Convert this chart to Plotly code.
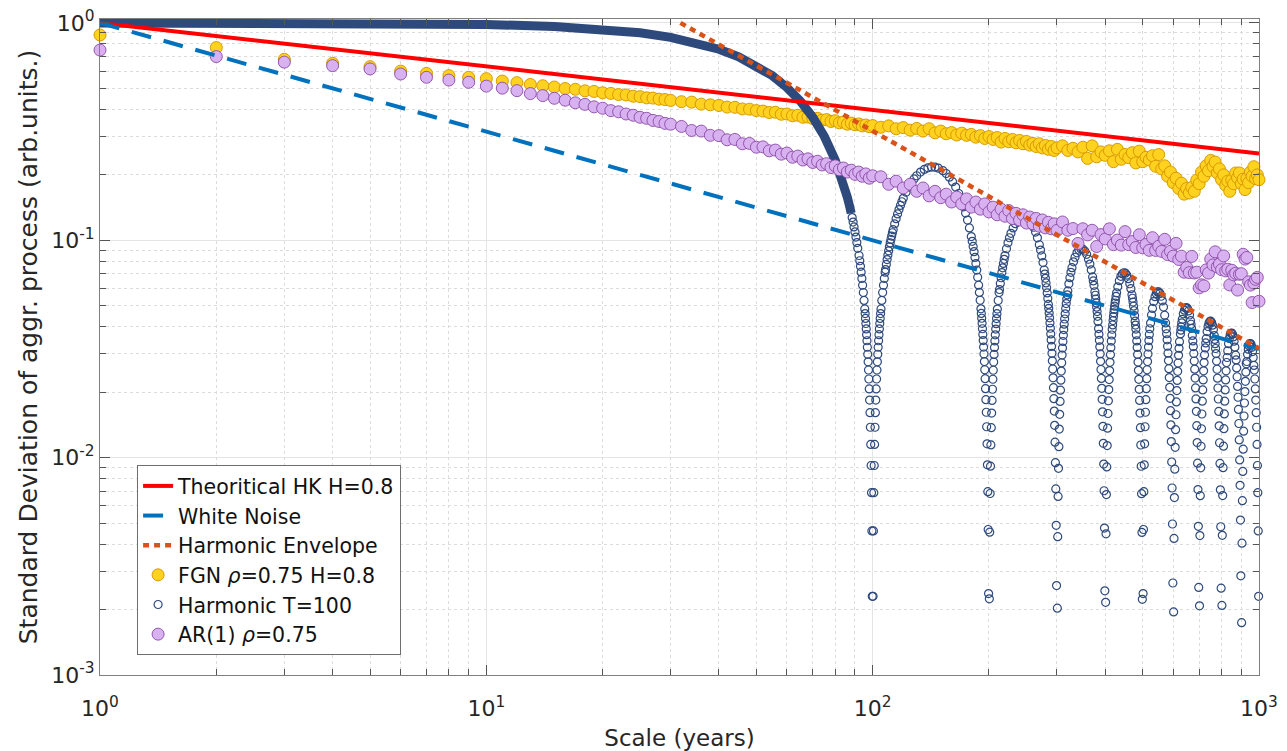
import plotly.graph_objects as go

# ---------------- data ----------------
k_scale = [1, 2, 3, 4, 5, 6, 7, 8, 9, 10, 11, 12, 13, 14, 15, 16, 17, 18, 19, 20,
           21, 22, 23, 24, 25, 26, 27, 28, 29, 30,
           32, 34, 36, 38, 40, 42, 44, 46, 48, 50, 52, 54, 56, 58, 60, 62, 64, 66, 68, 70,
           72, 74, 76, 78, 80, 82, 84, 86, 88, 90, 92, 94, 96, 98, 100,
           105, 110, 115, 120, 125, 130, 135, 140, 145, 150, 155, 160, 165, 170, 175, 180,
           185, 190, 195, 200, 205, 210, 215, 220, 225, 230, 235, 240, 245, 250, 255, 260,
           265, 270, 275, 280, 285, 290, 295, 300,
           310, 320, 330, 340, 350, 360, 370, 380, 390, 400, 410, 420, 430, 440, 450, 460,
           470, 480, 490, 500, 510, 520, 530, 540, 550, 560, 570, 580, 590, 600, 610, 620,
           630, 640, 650, 660, 670, 680, 690, 700, 710, 720, 730, 740, 750, 760, 770, 780,
           790, 800, 810, 820, 830, 840, 850, 860, 870, 880, 890, 900, 910, 920, 930, 940,
           950, 960, 970, 980, 990, 1000]

fgn_std = [0.88, 0.77, 0.68, 0.652, 0.629, 0.600, 0.586, 0.572, 0.562, 0.554,
           0.540, 0.531, 0.521, 0.514, 0.507, 0.499, 0.495, 0.487, 0.484, 0.477,
           0.474, 0.468, 0.466, 0.460, 0.458, 0.452, 0.451, 0.446, 0.444, 0.440,
           0.434, 0.432, 0.423, 0.420, 0.417, 0.410, 0.409, 0.402, 0.401, 0.395,
           0.393, 0.387, 0.388, 0.380, 0.381, 0.374, 0.376, 0.368, 0.369, 0.363,
           0.364, 0.357, 0.359, 0.352, 0.355, 0.347, 0.350, 0.342, 0.346, 0.340,
           0.343, 0.336, 0.339, 0.333, 0.337,
           0.331, 0.336, 0.326, 0.330, 0.321, 0.327, 0.318, 0.326, 0.312, 0.318,
           0.309, 0.313, 0.305, 0.311, 0.304, 0.307, 0.298, 0.303, 0.294, 0.300,
           0.291, 0.297, 0.283, 0.294, 0.284, 0.291, 0.281, 0.288, 0.278, 0.285,
           0.274, 0.279, 0.270, 0.278, 0.266, 0.273, 0.262, 0.270, 0.259, 0.266,
           0.272, 0.259, 0.265, 0.255, 0.268, 0.238, 0.272, 0.242, 0.255, 0.246,
           0.258, 0.230, 0.262, 0.236, 0.248, 0.240, 0.253, 0.227, 0.257, 0.230,
           0.241, 0.234, 0.245, 0.219, 0.248, 0.213, 0.220, 0.197, 0.206, 0.184,
           0.193, 0.173, 0.183, 0.163, 0.173, 0.165, 0.175, 0.168, 0.189, 0.182,
           0.206, 0.197, 0.220, 0.209, 0.233, 0.219, 0.229, 0.204, 0.213, 0.190,
           0.200, 0.179, 0.187, 0.168, 0.189, 0.182, 0.204, 0.194, 0.204, 0.182,
           0.191, 0.171, 0.192, 0.184, 0.206, 0.197, 0.218, 0.192, 0.200, 0.190]

ar1_std = [0.75, 0.70, 0.66, 0.636, 0.614, 0.582, 0.562, 0.546, 0.533, 0.512,
           0.501, 0.488, 0.473, 0.463, 0.450, 0.441, 0.429, 0.422, 0.411, 0.405,
           0.395, 0.390, 0.381, 0.376, 0.368, 0.364, 0.356, 0.352, 0.345, 0.342,
           0.334, 0.320, 0.318, 0.304, 0.303, 0.290, 0.291, 0.278, 0.279, 0.268,
           0.269, 0.258, 0.260, 0.249, 0.252, 0.241, 0.244, 0.234, 0.237, 0.228,
           0.231, 0.222, 0.225, 0.216, 0.220, 0.211, 0.215, 0.206, 0.210, 0.201,
           0.206, 0.197, 0.202, 0.193, 0.198,
           0.196, 0.181, 0.187, 0.174, 0.181, 0.168, 0.174, 0.160, 0.168, 0.157,
           0.163, 0.150, 0.158, 0.147, 0.155, 0.142, 0.150, 0.139, 0.147, 0.135,
           0.142, 0.131, 0.139, 0.129, 0.137, 0.126, 0.133, 0.124, 0.131, 0.120,
           0.128, 0.119, 0.126, 0.116, 0.124, 0.114, 0.121, 0.113, 0.119, 0.111,
           0.1214, 0.1112, 0.1132, 0.0967, 0.1130, 0.1059, 0.1112, 0.0936, 0.1062, 0.1014,
           0.1129, 0.0955, 0.1002, 0.0950, 0.1096, 0.0955, 0.0987, 0.0926, 0.1061, 0.0923,
           0.0957, 0.0899, 0.1028, 0.0898, 0.0939, 0.0889, 0.1010, 0.0859, 0.0890, 0.0845,
           0.0968, 0.0816, 0.0845, 0.0713, 0.0750, 0.0710, 0.0843, 0.0707, 0.0713, 0.0604,
           0.0624, 0.0617, 0.0731, 0.0706, 0.0820, 0.0770, 0.0885, 0.0754, 0.0777, 0.0732,
           0.0847, 0.0723, 0.0736, 0.0623, 0.0728, 0.0693, 0.0705, 0.0590, 0.0697, 0.0702,
           0.0862, 0.0819, 0.0833, 0.0644, 0.0622, 0.0517, 0.0635, 0.0661, 0.0675, 0.0524]

# straight reference lines (end points)
hk_x = [1, 1000]
hk_y = [1.0, 0.251]
wn_x = [1, 1000]
wn_y = [1.0, 0.0316]
env_x = [31.8, 1000]
env_y = [1.0, 0.0318]

# harmonic T=100: dense solid part (overlapping circles)
hb_x = [1, 2, 3, 5, 7, 10, 15, 20, 25, 30, 35, 40, 45, 50, 55, 60, 65, 70, 75, 80,
        82.5, 85, 86, 87, 88]
hb_y = [1.0, 0.9995, 0.9987, 0.9960, 0.9921, 0.9838, 0.9636, 0.9356, 0.9005, 0.8585,
        0.8105, 0.7570, 0.6988, 0.6367, 0.5717, 0.5046, 0.4364, 0.3679, 0.3002, 0.2339,
        0.2016, 0.1700, 0.1576, 0.1453, 0.1332]

# harmonic T=100: individual circles, lobe by lobe
hx0 = [88.5, 89.0, 89.5, 90.0, 90.5, 91.0, 91.5, 92.21, 92.60, 92.99, 93.38, 93.77, 94.18,
       94.58, 94.99, 95.40, 95.61, 95.82, 96.03, 96.24, 96.45, 96.67, 96.88, 97.10, 97.32,
       97.54, 97.75, 97.97, 98.19, 98.42, 98.64, 98.86, 99.09, 99.31, 99.54, 99.77]
hy0 = [0.1272, 0.1212, 0.1152, 0.1093, 0.1034, 0.0976, 0.0918, 0.0851, 0.0805, 0.0759,
       0.0713, 0.0667, 0.0621, 0.0575, 0.0529, 0.0483, 0.0460, 0.0437, 0.0414, 0.0391,
       0.0368, 0.0345, 0.0322, 0.0299, 0.0276, 0.0253, 0.0230, 0.0207, 0.0184, 0.0161,
       0.0138, 0.0115, 0.0092, 0.0069, 0.0046, 0.0023]

hx1 = [100.23, 100.46, 100.69, 100.93, 101.16, 101.40, 101.64, 101.87, 102.11, 102.35,
       102.59, 102.84, 103.08, 103.33, 103.58, 103.83, 104.08, 104.33, 104.58, 104.84,
       105.09, 105.61, 106.13, 106.66, 107.19, 107.73,
       108.0, 108.5, 109.0, 109.5, 110.0, 110.5, 111.0, 111.5, 112.0, 112.5,
       113, 114, 115, 116, 117, 118, 119, 120, 122, 124, 126, 128, 130,
       133, 136, 139, 142, 145, 148, 152, 155, 158, 161, 164, 167, 170,
       172, 174, 176, 178, 180, 181, 182, 183, 184, 185, 186, 187,
       188.02, 188.90, 189.77, 190.64, 191.08, 191.52, 191.96, 192.39, 192.83, 193.27,
       193.71, 194.13, 194.61, 195.04, 195.48, 195.93, 196.37, 196.82, 197.26, 197.71,
       198.16, 198.62, 199.07, 199.53]
hy1 = [0.0023, 0.0046, 0.0069, 0.0092, 0.0115, 0.0138, 0.0161, 0.0184, 0.0207, 0.0230,
       0.0253, 0.0276, 0.0299, 0.0322, 0.0345, 0.0368, 0.0391, 0.0414, 0.0437, 0.0460,
       0.0483, 0.0529, 0.0575, 0.0621, 0.0667, 0.0713,
       0.0733, 0.0774, 0.0815, 0.0855, 0.0894, 0.0933, 0.0972, 0.1009, 0.1046, 0.1083,
       0.1119, 0.1189, 0.1257, 0.1322, 0.1385, 0.1446, 0.1504, 0.1559, 0.1663, 0.1758,
       0.1842, 0.1916, 0.1981,
       0.2060, 0.2118, 0.2155, 0.2172, 0.2169, 0.2147, 0.2090, 0.2029, 0.1952, 0.1861,
       0.1757, 0.1641, 0.1515,
       0.1426, 0.1334, 0.1238, 0.1140, 0.1040, 0.0989, 0.0937, 0.0886, 0.0834, 0.0781,
       0.0729, 0.0676,
       0.06217, 0.05757, 0.05297, 0.04837, 0.04607, 0.04377, 0.04147, 0.03917, 0.03687,
       0.03457, 0.03227, 0.02997, 0.02767, 0.02537, 0.02307, 0.02077, 0.01847, 0.01617,
       0.01387, 0.01157, 0.00927, 0.00697, 0.00467, 0.00237]

hx2 = [200.45, 200.91, 201.38, 201.84, 202.31, 202.79, 203.26, 203.74, 204.22, 204.71,
       205.20, 205.69, 206.18, 206.68, 207.18, 207.68, 208.19, 208.70, 209.22, 209.74,
       210.26, 211.32, 212.40,
       213, 214, 215, 216, 217, 218, 219, 220, 222, 224, 226, 228, 231, 234, 237, 241,
       245, 249, 253, 257, 261, 264, 267, 270, 272, 274, 276, 278, 279, 280, 281, 282,
       283, 284, 285,
       285.62, 286.32, 287.01, 287.70, 288.38, 289.06, 289.74, 290.42, 291.10, 291.77,
       292.45, 293.12, 293.80, 294.47, 295.15, 295.82, 296.50, 297.18, 297.86, 298.54,
       299.23]
hy2 = [0.00224, 0.00454, 0.00684, 0.00914, 0.01144, 0.01374, 0.01604, 0.01834, 0.02064,
       0.02294, 0.02524, 0.02754, 0.02984, 0.03214, 0.03444, 0.03674, 0.03904, 0.04134,
       0.04364, 0.04594, 0.04824, 0.05284, 0.05744,
       0.05936, 0.06334, 0.06722, 0.07100, 0.07468, 0.07825, 0.08171, 0.08506, 0.09141,
       0.09729, 0.10269, 0.10759, 0.11399, 0.11922, 0.12328, 0.12685, 0.12834, 0.12779,
       0.12527, 0.12089, 0.11477, 0.10911, 0.10263, 0.09539, 0.09018, 0.08470, 0.07896,
       0.07300, 0.06994, 0.06683, 0.06368, 0.06049, 0.05726, 0.05400, 0.05071,
       0.04858, 0.04628, 0.04398, 0.04168, 0.03938, 0.03708, 0.03478, 0.03248, 0.03018,
       0.02788, 0.02558, 0.02328, 0.02098, 0.01868, 0.01638, 0.01408, 0.01178, 0.00948,
       0.00718, 0.00488, 0.00258]

hx3 = [300.61, 301.31, 302.00, 302.71, 303.41, 304.12, 304.84, 305.57, 306.29, 307.03,
       307.77, 308.51, 309.27, 310.03, 310.80, 311.58, 312.36, 313.16, 313.96,
       315, 316, 317, 318, 319, 320, 322, 324, 326, 328, 331, 334, 338, 342, 346, 350,
       354, 358, 362, 365, 368, 371, 372.5, 374, 376, 377, 378, 379, 380, 381, 382, 383,
       384.29, 385.24, 386.19, 387.13, 388.06, 388.99, 389.91, 390.83, 391.74, 392.65,
       393.56, 394.47, 395.38, 396.29, 397.20, 398.11, 399.03]
hy3 = [0.00203, 0.00433, 0.00663, 0.00893, 0.01123, 0.01353, 0.01583, 0.01813, 0.02043,
       0.02273, 0.02503, 0.02733, 0.02963, 0.03193, 0.03423, 0.03653, 0.03883, 0.04113,
       0.04343,
       0.04588, 0.04854, 0.05112, 0.05364, 0.05610, 0.05848, 0.06302, 0.06726, 0.07119,
       0.07479, 0.07955, 0.08353, 0.08758, 0.09016, 0.09129, 0.09096, 0.08922, 0.08613,
       0.08177, 0.07772, 0.07304, 0.06780, 0.06499, 0.06205, 0.05796, 0.05585, 0.05368,
       0.05148, 0.04924, 0.04697, 0.04466, 0.04231,
       0.03924, 0.03694, 0.03464, 0.03234, 0.03004, 0.02774, 0.02544, 0.02314, 0.02084,
       0.01854, 0.01624, 0.01394, 0.01164, 0.00934, 0.00704, 0.00474, 0.00244]

hx4 = [400.87, 401.79, 402.73, 403.66, 404.61, 405.57, 406.53, 407.50, 408.48, 409.48,
       410.49, 411.50, 412.54, 413.58, 414.64, 415.72, 416.81,
       418, 419, 420, 421, 422, 423, 424, 425, 426.5, 428, 431, 435, 439, 443, 447, 451,
       455, 459, 463, 466, 469, 470.5, 472, 473.5, 475, 476.5, 478, 479,
       480.03, 481.29, 482.54, 483.77, 484.98, 486.19, 487.37, 488.55, 489.72, 490.88,
       492.03, 493.18, 494.32, 495.46, 496.60, 497.74, 498.89]
hy4 = [0.00216, 0.00446, 0.00676, 0.00906, 0.01136, 0.01366, 0.01596, 0.01826, 0.02056,
       0.02286, 0.02516, 0.02746, 0.02976, 0.03206, 0.03436, 0.03666, 0.03896,
       0.04081, 0.04271, 0.04455, 0.04635, 0.04809, 0.04977, 0.05140, 0.05297, 0.05521,
       0.05731, 0.06109, 0.06521, 0.06823, 0.07013, 0.07090, 0.07055, 0.06911, 0.06660,
       0.06311, 0.05987, 0.05614, 0.05411, 0.05197, 0.04973, 0.04739, 0.04497, 0.04245,
       0.04074,
       0.03903, 0.03673, 0.03443, 0.03213, 0.02983, 0.02753, 0.02523, 0.02293, 0.02063,
       0.01833, 0.01603, 0.01373, 0.01143, 0.00913, 0.00683, 0.00453, 0.00223]

hx5 = [501.19, 502.35, 503.52, 504.69, 505.88, 507.09, 508.30, 509.53, 510.79, 512.05,
       513.34, 514.65, 515.99, 517.35, 518.73, 520.14, 521.58,
       524, 527, 530, 534, 538, 542, 546, 550, 554, 558, 562, 566, 570, 573, 575,
       576.72, 578.32, 579.88, 581.42, 582.92, 584.41, 585.86, 587.31, 588.73, 590.13,
       591.53, 592.92, 594.29, 595.67, 597.04, 598.41]
hy5 = [0.00237, 0.00467, 0.00697, 0.00927, 0.01157, 0.01387, 0.01617, 0.01847, 0.02077,
       0.02307, 0.02537, 0.02767, 0.02997, 0.03227, 0.03457, 0.03687, 0.03917,
       0.04159, 0.04531, 0.04860, 0.05224, 0.05502, 0.05689, 0.05785, 0.05788, 0.05701,
       0.05526, 0.05267, 0.04929, 0.04519, 0.04168, 0.03915,
       0.03715, 0.03485, 0.03255, 0.03025, 0.02795, 0.02565, 0.02335, 0.02105, 0.01875,
       0.01645, 0.01415, 0.01185, 0.00955, 0.00725, 0.00495, 0.00265]

hx6 = [601.17, 602.56, 603.97, 605.38, 606.81, 608.26, 609.74, 611.23, 612.76, 614.31,
       615.90, 617.51, 619.17, 620.87, 622.60,
       626, 627.5, 629, 631, 633, 637, 641, 645, 649, 653, 657, 661, 665, 667, 669, 672, 674,
       676.11, 678.00, 679.84, 681.65, 683.41, 685.14, 686.84, 688.51, 690.16, 691.79,
       693.41, 695.02, 696.63, 698.23]
hy6 = [0.00195, 0.00425, 0.00655, 0.00885, 0.01115, 0.01345, 0.01575, 0.01805, 0.02035,
       0.02265, 0.02495, 0.02725, 0.02955, 0.03185, 0.03415,
       0.03707, 0.03858, 0.03999, 0.04173, 0.04329, 0.04587, 0.04769, 0.04875, 0.04903,
       0.04854, 0.04729, 0.04532, 0.04266, 0.04108, 0.03936, 0.03650, 0.03443,
       0.03243, 0.03013, 0.02783, 0.02553, 0.02323, 0.02093, 0.01863, 0.01633, 0.01403,
       0.01173, 0.00943, 0.00713, 0.00483, 0.00253]

hx7 = [701.46, 703.08, 704.72, 706.37, 708.07, 709.78, 711.52, 713.30, 715.11, 716.98,
       718.89, 720.85, 722.87,
       726, 728, 730, 734, 738, 742, 746, 750, 754, 758, 762, 766, 768, 770, 772,
       774.34, 776.56, 778.71, 780.81, 782.85, 784.85, 786.80, 788.72, 790.61, 792.47,
       794.32, 796.16, 797.99]
hy7 = [0.00208, 0.00438, 0.00668, 0.00898, 0.01128, 0.01358, 0.01588, 0.01818, 0.02048,
       0.02278, 0.02508, 0.02738, 0.02968,
       0.03197, 0.03370, 0.03528, 0.03801, 0.04011, 0.04156, 0.04234, 0.04245, 0.04189,
       0.04068, 0.03885, 0.03642, 0.03500, 0.03345, 0.03178,
       0.03011, 0.02781, 0.02551, 0.02321, 0.02091, 0.01861, 0.01631, 0.01401, 0.01171,
       0.00941, 0.00711, 0.00481, 0.00251]

hx8 = [801.68, 803.53, 805.41, 807.32, 809.26, 811.23, 813.25, 815.32, 817.45, 819.65,
       821.91, 824.24,
       827, 830, 834, 838, 842, 846, 850, 854, 858, 862, 866, 870,
       872.69, 875.25, 877.73, 880.12, 882.44, 884.70, 887.01, 889.07, 891.19, 893.29,
       895.36, 897.43]
hy8 = [0.00209, 0.00439, 0.00669, 0.00899, 0.01129, 0.01359, 0.01589, 0.01819, 0.02049,
       0.02279, 0.02509, 0.02739,
       0.02888, 0.03103, 0.03345, 0.03532, 0.03662, 0.03733, 0.03745, 0.03698, 0.03594,
       0.03434, 0.03222, 0.02960,
       0.02816, 0.02586, 0.02356, 0.02126, 0.01896, 0.01666, 0.01436, 0.01206, 0.00976,
       0.00746, 0.00516, 0.00286]

hx9 = [901.57, 903.66, 905.77, 907.92, 910.11, 912.35, 914.65, 917.02, 919.47, 922.00,
       924.63, 927.36,
       930, 934, 938, 942, 946, 950, 954, 958, 962, 966, 970,
       972.68, 975.53, 978.27, 980.91, 983.47, 985.96, 988.38, 990.76, 993.09, 995.41,
       997.70]
hy9 = [0.00174, 0.00404, 0.00634, 0.00864, 0.01094, 0.01324, 0.01554, 0.01784, 0.02014,
       0.02244, 0.02474, 0.02704,
       0.02769, 0.02987, 0.03156, 0.03273, 0.03339, 0.03351, 0.03311, 0.03219, 0.03077,
       0.02888, 0.02655,
       0.0253, 0.0230, 0.0207, 0.0184, 0.0161, 0.0138, 0.0115, 0.0092, 0.0069, 0.0046,
       0.0023]

x_tick_vals = [1, 10, 100, 1000]
x_tick_text = ['10<sup>0</sup>', '10<sup>1</sup>', '10<sup>2</sup>', '10<sup>3</sup>']
y_tick_vals = [0.001, 0.01, 0.1, 1]
y_tick_text = ['10<sup>-3</sup>', '10<sup>-2</sup>', '10<sup>-1</sup>', '10<sup>0</sup>']

# ---------------- figure ----------------
harm_x = hx0 + hx1 + hx2 + hx3 + hx4 + hx5 + hx6 + hx7 + hx8 + hx9
harm_y = hy0 + hy1 + hy2 + hy3 + hy4 + hy5 + hy6 + hy7 + hy8 + hy9

NAVY = '#2E4A7D'
FONT = 'DejaVu Sans, Open Sans, sans-serif'
TXT = '#262626'

fig = go.Figure()
fig.add_trace(go.Scatter(
    x=k_scale, y=fgn_std, mode='markers', name='FGN <i>ρ</i>=0.75 H=0.8',
    marker=dict(size=12, color='#FFD21F', line=dict(color='#D99A00', width=1)),
    legendrank=4, cliponaxis=False))
fig.add_trace(go.Scatter(
    x=hb_x, y=hb_y, mode='lines', line=dict(color=NAVY, width=9),
    showlegend=False, hoverinfo='skip'))
fig.add_trace(go.Scatter(
    x=harm_x, y=harm_y, mode='markers', name='Harmonic T=100',
    marker=dict(symbol='circle-open', size=8, color=NAVY, line=dict(width=1.2)),
    legendrank=5, cliponaxis=False))
fig.add_trace(go.Scatter(
    x=k_scale, y=ar1_std, mode='markers', name='AR(1) <i>ρ</i>=0.75',
    marker=dict(size=12, color='#D8B2F0', line=dict(color='#8A4AA6', width=0.9)),
    legendrank=6, cliponaxis=False))
fig.add_trace(go.Scatter(
    x=hk_x, y=hk_y, mode='lines', name='Theoritical HK H=0.8',
    line=dict(color='#FF0000', width=4), legendrank=1))
fig.add_trace(go.Scatter(
    x=wn_x, y=wn_y, mode='lines', name='White Noise',
    line=dict(color='#0072BD', width=4, dash='20px,13px'), legendrank=2))
fig.add_trace(go.Scatter(
    x=env_x, y=env_y, mode='lines', name='Harmonic Envelope',
    line=dict(color='#D95319', width=4.5, dash='6px,5px'), legendrank=3))

minor_x = [d * 10 ** e for e in range(0, 3) for d in range(2, 10)]
minor_y = [d * 10.0 ** e for e in range(-3, 0) for d in range(2, 10)]

axis_common = dict(
    type='log', tickmode='array', ticks='inside', ticklen=10, tickwidth=1,
    tickcolor='#555555', showline=True, linecolor='#7f7f7f', linewidth=1,
    mirror='ticks', showgrid=True, gridcolor='#e4e4e4', gridwidth=1, zeroline=False,
    tickfont=dict(size=22, color=TXT, family=FONT), automargin=False,
)

fig.update_xaxes(
    range=[0, 3], tickvals=x_tick_vals, ticktext=x_tick_text, ticklabelstandoff=14,
    minor=dict(tickmode='array', tickvals=minor_x, ticks='inside', ticklen=6,
               tickcolor='#555555', showgrid=True, gridcolor='#dcdcdc', griddash='dot'),
    title=dict(text='Scale (years)', font=dict(size=23, color=TXT, family=FONT),
               standoff=10),
    **axis_common)
fig.update_yaxes(
    range=[-3, 0.018], tickvals=y_tick_vals, ticktext=y_tick_text,
    minor=dict(tickmode='array', tickvals=minor_y, ticks='inside', ticklen=6,
               tickcolor='#555555', showgrid=True, gridcolor='#dcdcdc', griddash='dot'),
    title=dict(text='Standard Deviation of aggr. process (arb.units.)',
               font=dict(size=25, color=TXT, family=FONT), standoff=6),
    **axis_common)

fig.update_layout(
    width=1287, height=751,
    margin=dict(l=100, r=28, t=19, b=76),
    paper_bgcolor='white', plot_bgcolor='white',
    font=dict(family=FONT, size=20, color=TXT),
    showlegend=True,
    legend=dict(x=0.032, y=0.320, xanchor='left', yanchor='top',
                bgcolor='white', bordercolor='#6e6e6e', borderwidth=1,
                font=dict(size=20.5, color='#111111', family=FONT),
                tracegroupgap=0, itemwidth=30),
)

fig.write_html('out.html')
